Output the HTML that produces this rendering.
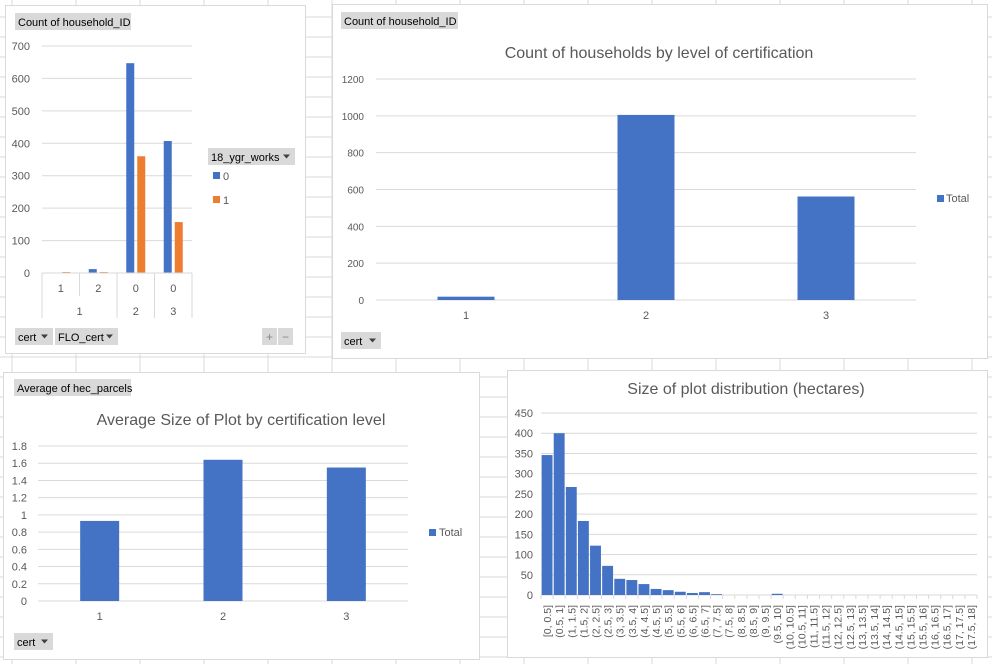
<!DOCTYPE html>
<html><head><meta charset="utf-8">
<style>
html,body{margin:0;padding:0;background:#fff;}
body{width:992px;height:664px;overflow:hidden;font-family:"Liberation Sans",sans-serif;}
svg text{font-family:"Liberation Sans",sans-serif;}
</style></head>
<body>
<svg id="s" width="992" height="664" xmlns="http://www.w3.org/2000/svg">
<g id="grid"></g>
</svg>
<script>
// ---- data ----
const tlCats=["1","2","0","0"];
const tlGroups=["1","2","3"];
const tlSeries0=[0,12,647,407];
const tlSeries1=[3,3,360,157];
const tlTicks=[0,100,200,300,400,500,600,700];
const trCats=["1","2","3"];
const trValues=[18,1005,562];
const trTicks=[0,200,400,600,800,1000,1200];
const blCats=["1","2","3"];
const blValues=[0.93,1.64,1.55];
const blTicks=[0,0.2,0.4,0.6,0.8,1,1.2,1.4,1.6,1.8];
const histCats=["[0, 0.5]","(0.5, 1]","(1, 1.5]","(1.5, 2]","(2, 2.5]","(2.5, 3]","(3, 3.5]","(3.5, 4]","(4, 4.5]","(4.5, 5]","(5, 5.5]","(5.5, 6]","(6, 6.5]","(6.5, 7]","(7, 7.5]","(7.5, 8]","(8, 8.5]","(8.5, 9]","(9, 9.5]","(9.5, 10]","(10, 10.5]","(10.5, 11]","(11, 11.5]","(11.5, 12]","(12, 12.5]","(12.5, 13]","(13, 13.5]","(13.5, 14]","(14, 14.5]","(14.5, 15]","(15, 15.5]","(15.5, 16]","(16, 16.5]","(16.5, 17]","(17, 17.5]","(17.5, 18]"];
const histValues=[346,400,267,183,122,72,40,37,27,15,12,8,5,7,2,0,0,0,0,3,0,0,0,0,0,0,0,0,0,0,0,0,0,0,0,0];
const histTicks=[0,50,100,150,200,250,300,350,400,450];

const NS="http://www.w3.org/2000/svg";
const svg=document.getElementById('s');
function el(tag,attrs,parent,txt){const e=document.createElementNS(NS,tag);for(const k in attrs)e.setAttribute(k,attrs[k]);if(txt!==undefined)e.textContent=txt;(parent||svg).appendChild(e);return e;}
const BLUE="#4472c4",ORANGE="#ed7d31",GRID="#d9d9d9",TXT="#595959";

// sheet grid
const g=document.getElementById('grid');
for(let x=12;x<992;x+=64){const l=el('line',{x1:x,y1:0,x2:x,y2:664,stroke:"#dadada"},g);}
for(let y=17;y<664;y+=20){const l=el('line',{x1:0,y1:y,x2:992,y2:y,stroke:"#dadada"},g);}

function panel(name,x,y,w,h){const r=el('rect',{x:x+.5,y:y+.5,width:w,height:h,fill:"#fff",stroke:"#d9d9d9"});const gg=el('g',{});return gg;}
function button(p,name,x,y,w,h,label,arrow){const b=el('g',{},p);el('rect',{x:x,y:y,width:w,height:h,fill:"#d9d9d9"},b);el('text',{x:x+3,y:y+h-4,'font-size':11,fill:"#000"},b,label);if(arrow){el('path',{d:`M${x+w-12} ${y+h/2-2}h7l-3.5 4z`,fill:"#404040"},b);}return b;}
function yAxis(p,ticks,yScale,x1,x2,lx,fmt,fs){ticks.forEach(t=>{const y=yScale(t);const l=el('line',{x1:x1,y1:y,x2:x2,y2:y,stroke:GRID},p);const tx=el('text',{x:lx,y:y+4,'font-size':fs||11,fill:TXT,'text-anchor':'end'},p,fmt?fmt(t):String(t));});}

// ===== Top-left chart =====
(function(){
const p=panel('pivot-chart-by-flo-cert',5,5,300,348);
button(p,'field-button-count-household',15,13,116,17,'Count of household_ID');
const x0=42,x1=192,y0=273,yTop=46,max=700;
const ys=v=>y0-(v/max)*(y0-yTop);
yAxis(p,tlTicks,ys,x0,x1,30);
const cw=(x1-x0)/tlCats.length,bw=8;
tlCats.forEach((c,i)=>{const cx=x0+cw*i+cw/2;
 const b0=el('rect',{x:cx-bw-1.5,y:ys(tlSeries0[i]),width:bw,height:y0-ys(tlSeries0[i]),fill:BLUE},p);
 const b1=el('rect',{x:cx+1.5,y:ys(tlSeries1[i]),width:bw,height:y0-ys(tlSeries1[i]),fill:ORANGE},p);
 const t=el('text',{x:cx,y:292,'font-size':11,fill:TXT,'text-anchor':'middle'},p,c);});
// group axis
const bounds=[[0,2],[2,3],[3,4]];
el('line',{x1:x0,y1:y0,x2:x1,y2:y0,stroke:GRID},p);
[0,2,3,4].forEach(k=>{const x=x0+cw*k;el('line',{x1:x,y1:y0,x2:x,y2:318,stroke:GRID},p);});
el('line',{x1:x0+cw,y1:y0,x2:x0+cw,y2:296,stroke:GRID},p);
el('line',{x1:x0,y1:296,x2:x1,y2:296,stroke:"none"},p);
tlGroups.forEach((gname,i)=>{const [a,b]=bounds[i];const t=el('text',{x:x0+cw*(a+b)/2,y:315,'font-size':11,fill:TXT,'text-anchor':'middle'},p,gname);});
// legend
button(p,'legend-field-18-ygr-works',208,148,87,17,'18_ygr_works',true);
const l0=el('g',{},p);
el('rect',{x:213,y:172,width:7,height:7,fill:BLUE},l0);el('text',{x:223,y:180,'font-size':11,fill:TXT},l0,'0');
const l1=el('g',{},p);
el('rect',{x:213,y:196,width:7,height:7,fill:ORANGE},l1);el('text',{x:223,y:204,'font-size':11,fill:TXT},l1,'1');
button(p,'field-button-cert',15,328,38,17,'cert',true);
button(p,'field-button-flo-cert',55,328,63,17,'FLO_cert',true);
const pl=el('g',{},p);
el('rect',{x:262,y:328,width:15,height:17,fill:"#d9d9d9"},pl);el('text',{x:269.5,y:341,'font-size':12,fill:"#888",'text-anchor':'middle'},pl,'+');
const mi=el('g',{},p);
el('rect',{x:278,y:328,width:15,height:17,fill:"#d9d9d9"},mi);el('text',{x:285.5,y:341,'font-size':12,fill:"#888",'text-anchor':'middle'},mi,'−');
})();

// ===== Top-right chart =====
(function(){
const p=panel('chart-households-by-cert',332,4,655,354);
button(p,'field-button-count-household',341,12,117,17,'Count of household_ID');
const t=el('text',{x:659,y:58,'font-size':16,fill:TXT,'text-anchor':'middle'},p,'Count of households by level of certification');
const x0=376,x1=916,y0=300,yTop=79,max=1200;
const ys=v=>y0-(v/max)*(y0-yTop);
yAxis(p,trTicks,ys,x0,x1,364,null,10);
const cw=(x1-x0)/trCats.length,bw=57;
trCats.forEach((c,i)=>{const cx=x0+cw*i+cw/2;const b=el('rect',{x:cx-bw/2,y:ys(trValues[i]),width:bw,height:y0-ys(trValues[i]),fill:BLUE},p);
 const tx=el('text',{x:cx,y:319,'font-size':11,fill:TXT,'text-anchor':'middle'},p,c);});
const lg=el('g',{},p);
el('rect',{x:937,y:195,width:7,height:7,fill:BLUE},lg);el('text',{x:946,y:202,'font-size':11,fill:TXT},lg,'Total');
button(p,'field-button-cert',341,332,40,17,'cert',true);
})();

// ===== Bottom-left chart =====
(function(){
const p=panel('chart-average-plot-size',3,372,476,287);
button(p,'field-button-average-hec-parcels',14,379,117,17,'Average of hec_parcels');
const t=el('text',{x:241,y:425,'font-size':16,fill:TXT,'text-anchor':'middle'},p,'Average Size of Plot by certification level');
const x0=38,x1=408,y0=601,yTop=446,max=1.8;
const ys=v=>y0-(v/max)*(y0-yTop);
yAxis(p,blTicks,ys,x0,x1,27);
const cw=(x1-x0)/blCats.length,bw=39;
blCats.forEach((c,i)=>{const cx=x0+cw*i+cw/2;const b=el('rect',{x:cx-bw/2,y:ys(blValues[i]),width:bw,height:y0-ys(blValues[i]),fill:BLUE},p);
 const tx=el('text',{x:cx,y:620,'font-size':11,fill:TXT,'text-anchor':'middle'},p,c);});
const lg=el('g',{},p);
el('rect',{x:429,y:529,width:7,height:7,fill:BLUE},lg);el('text',{x:439,y:536,'font-size':11,fill:TXT},lg,'Total');
button(p,'field-button-cert',14,633,39,17,'cert',true);
})();

// ===== Bottom-right histogram =====
(function(){
const p=panel('chart-plot-size-distribution',507,370,480,287);
const t=el('text',{x:746,y:394,'font-size':16,fill:TXT,'text-anchor':'middle'},p,'Size of plot distribution (hectares)');
const x0=541,x1=977,y0=595,yTop=413,max=450;
const ys=v=>y0-(v/max)*(y0-yTop);
yAxis(p,histTicks,ys,x0,x1,533);
const cw=(x1-x0)/histCats.length;
for(let i=0;i<=histCats.length;i++){const x=x0+cw*i;el('line',{x1:x,y1:y0,x2:x,y2:y0+4,stroke:GRID},p);}
histCats.forEach((c,i)=>{const xl=x0+cw*i;const v=histValues[i];
 const b=el('rect',{x:xl+0.6,y:ys(v),width:cw-1.2,height:y0-ys(v),fill:BLUE},p);
 const cx=xl+cw/2+4;const tx=el('text',{x:cx,y:605,'font-size':10.5,fill:TXT,'text-anchor':'end',transform:`rotate(-90 ${cx} 605)`},p,c);});
})();
</script>
</body></html>
